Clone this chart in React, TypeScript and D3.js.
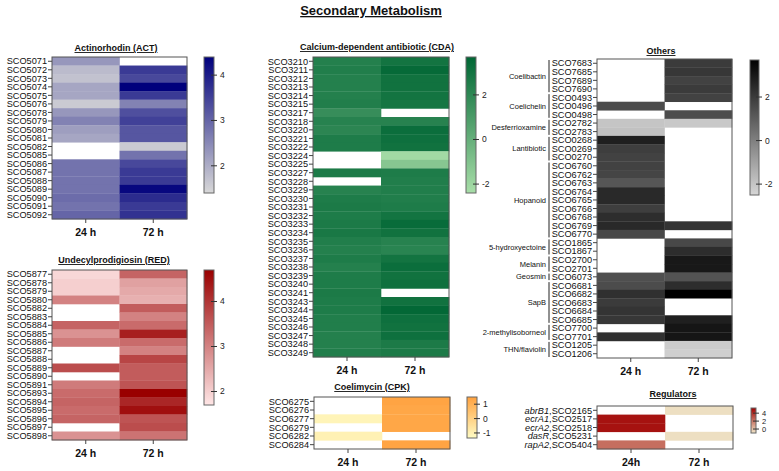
import * as d3 from 'd3'

// ---- data ----
const actGenes = ['SCO5071', 'SCO5072', 'SCO5073', 'SCO5074', 'SCO5075', 'SCO5076', 'SCO5078', 'SCO5079', 'SCO5080', 'SCO5081', 'SCO5082', 'SCO5085', 'SCO5086', 'SCO5087', 'SCO5088', 'SCO5089', 'SCO5090', 'SCO5091', 'SCO5092']
const act24 = [2.3, 1.8, 1.7, 2.1, 2.1, 1.6, 2.3, 2.6, 2.2, 2.1, NaN, NaN, 2.8, 2.8, 2.8, 2.8, 2.9, 2.8, 3.0]
const act72 = [NaN, 3.6, 3.4, 4.4, 3.6, 2.6, 3.3, 3.5, 3.2, 3.2, 1.6, 2.8, 3.4, 3.6, 3.6, 4.3, 3.8, 3.6, 3.7]

const redGenes = ['SCO5877', 'SCO5878', 'SCO5879', 'SCO5880', 'SCO5882', 'SCO5883', 'SCO5884', 'SCO5885', 'SCO5886', 'SCO5887', 'SCO5888', 'SCO5889', 'SCO5890', 'SCO5891', 'SCO5893', 'SCO5894', 'SCO5895', 'SCO5896', 'SCO5897', 'SCO5898']
const red24 = [1.9, 2.0, 2.0, 3.0, NaN, NaN, 3.4, 2.8, 3.1, NaN, NaN, 3.7, NaN, 3.1, 3.3, 3.4, 3.3, 3.4, NaN, 2.8]
const red72 = [3.4, 2.6, 2.5, 2.4, 3.5, 3.0, 3.3, 4.3, 3.3, 3.0, 3.8, 3.5, 3.5, 3.6, 4.7, 4.2, 4.5, 3.6, 3.7, 3.2]

const cdaGenes = ['SCO3210', 'SCO3211', 'SCO3212', 'SCO3213', 'SCO3214', 'SCO3215', 'SCO3217', 'SCO3218', 'SCO3220', 'SCO3221', 'SCO3222', 'SCO3224', 'SCO3225', 'SCO3227', 'SCO3228', 'SCO3229', 'SCO3230', 'SCO3231', 'SCO3232', 'SCO3233', 'SCO3234', 'SCO3235', 'SCO3236', 'SCO3237', 'SCO3238', 'SCO3239', 'SCO3240', 'SCO3241', 'SCO3243', 'SCO3244', 'SCO3245', 'SCO3246', 'SCO3247', 'SCO3248', 'SCO3249']
const cda24 = [2.4, 2.5, 2.4, 2.4, 2.4, 2.5, 1.7, 2.3, 2.1, 2.6, 2.6, NaN, NaN, 2.7, NaN, 2.3, 2.6, 2.7, 2.6, 2.7, 2.8, 2.5, 2.4, 2.6, 2.4, 2.6, 2.6, 2.7, 2.6, 2.6, 2.5, 2.5, 2.4, 2.4, 2.5]
const cda72 = [3.0, 3.5, 3.1, 3.1, 3.0, 2.9, NaN, 2.3, 3.3, 3.2, 3.1, -2.2, -1.2, 2.6, 2.5, 2.5, 2.5, 2.6, 3.0, 3.4, 3.1, 2.3, 2.2, 3.0, 3.3, 3.1, 3.2, NaN, 3.1, 3.6, 3.2, 3.1, 3.2, 2.7, 2.7]

const cpkGenes = ['SCO6275', 'SCO6276', 'SCO6277', 'SCO6279', 'SCO6282', 'SCO6284']
const cpk24 = [NaN, NaN, -1.1, NaN, -1.0, NaN]
const cpk72 = [1.4, 1.3, 1.3, 1.3, NaN, 1.4]

const otherGenes = ['SCO7683', 'SCO7685', 'SCO7689', 'SCO7690', 'SCO0493', 'SCO0496', 'SCO0498', 'SCO2782', 'SCO2783', 'SCO0268', 'SCO0269', 'SCO0270', 'SCO6760', 'SCO6762', 'SCO6763', 'SCO6764', 'SCO6765', 'SCO6766', 'SCO6768', 'SCO6769', 'SCO6770', 'SCO1865', 'SCO1867', 'SCO2700', 'SCO2701', 'SCO6073', 'SCO6681', 'SCO6682', 'SCO6683', 'SCO6684', 'SCO6685', 'SCO7700', 'SCO7701', 'SCO1205', 'SCO1206']
const other24 = [NaN, NaN, NaN, NaN, NaN, 1.5, NaN, -2.0, -1.9, 2.8, 1.9, 1.8, 1.8, 1.7, 1.2, 2.5, 2.5, 1.9, 2.4, 2.5, 1.6, NaN, NaN, NaN, NaN, 1.4, 1.5, 2.3, 2.0, 2.2, 2.1, NaN, 2.3, NaN, NaN]
const other72 = [2.0, 2.1, 1.8, 2.0, 1.8, NaN, 1.5, -2.1, NaN, NaN, NaN, NaN, NaN, NaN, NaN, NaN, NaN, NaN, NaN, 2.2, NaN, 1.6, 2.4, 3.0, 3.0, 1.3, 2.4, 3.7, NaN, NaN, 2.8, 3.1, 3.1, -2.2, -2.3]
const otherGroups = ['Coelibactin', 'Coelichelin', 'Desferrioxamine', 'Lantibiotic', 'Hopanoid', '5-hydroxyectoine', 'Melanin', 'Geosmin', 'SapB', '2-methylisoborneol', 'THN/flaviolin']
const otherGroupSizes = [4, 3, 2, 3, 9, 2, 2, 1, 5, 2, 2]

const regGenes = ['abrB1', 'ecrA1', 'ecrA2', 'dasR', 'rapA2']
const regIds = ['SCO2165', 'SCO2517', 'SCO2518', 'SCO5231', 'SCO5404']
const reg24 = [NaN, 4.8, 4.8, NaN, 2.3]
const reg72 = [-0.8, NaN, NaN, -0.8, NaN]

const font = 'Liberation Sans, Arial, Helvetica, sans-serif'

interface Bar {
  x: number
  top: number
  bottom: number
  w: number
  ticks: number[]
  fontSize?: number
}

interface Props {
  id: string
  title: string
  titleX: number
  titleY: number
  rows: React.ReactNode[]
  v24: number[]
  v72: number[]
  left: number
  top: number
  width: number
  height: number
  domain: [number, number]
  colors: [string, string]
  bar: Bar
  xLabels?: string[]
  groups?: { names: string[]; sizes: number[] }
}

const Heatmap = ({ id, title, titleX, titleY, rows, v24, v72, left, top, width, height, domain, colors, bar, xLabels = ['24 h', '72 h'], groups }: Props) => {
  const y = d3.scaleBand<number>().domain(d3.range(rows.length)).range([top, top + height])
  const x = d3.scaleBand<number>().domain([0, 1]).range([left, left + width])
  const color = d3.scaleLinear<string>().domain(domain).range(colors).interpolate(d3.interpolateRgb).clamp(true)
  const barY = d3.scaleLinear().domain(domain).range([bar.bottom, bar.top])
  const bh = y.bandwidth()
  const cols = [v24, v72]

  let groupBlocks: { name: string; y0: number; y1: number }[] = []
  if (groups) {
    let start = 0
    groupBlocks = groups.names.map((name, i) => {
      const s = start
      start += groups.sizes[i]
      return { name, y0: y(s)!, y1: y(start - 1)! + bh }
    })
  }

  return (
    <g fontFamily={font}>
      <defs>
        <linearGradient id={`grad-${id}`} x1="0" y1="1" x2="0" y2="0">
          <stop offset="0%" stopColor={colors[0]} />
          <stop offset="100%" stopColor={colors[1]} />
        </linearGradient>
      </defs>
      <text x={titleX} y={titleY} textAnchor="middle" fontSize={9} fontWeight="bold" textDecoration="underline" fill="#111">
        {title}
      </text>

      {cols.map((vals, c) =>
        vals.map((v, r) =>
          isNaN(v) ? null : (
            <rect key={`${c}-${r}`} x={x(c)} y={y(r)} width={x.bandwidth() + 0.3} height={bh + 0.3} fill={color(v)} />
          )
        )
      )}
      <rect x={left} y={top} width={width} height={height} fill="none" stroke="#555" strokeWidth={1} />

      {/* y axis */}
      <g fontSize={9.2} fill="#111" textAnchor="end">
        {rows.map((label, r) => {
          const cy = y(r)! + bh / 2
          return (
            <g key={r}>
              <line x1={left - 4} x2={left} y1={cy} y2={cy} stroke="#444" />
              <text x={left - 5} y={cy} dy="0.35em">
                {label}
              </text>
            </g>
          )
        })}
      </g>

      {/* group brackets */}
      {groupBlocks.map((g) => (
        <g key={g.name}>
          <line x1={left - 48} x2={left - 48} y1={g.y0 + 1} y2={g.y1 - 1} stroke="#222" strokeWidth={1} />
          <text x={left - 51} y={(g.y0 + g.y1) / 2} dy="0.35em" textAnchor="end" fontSize={7.5} fill="#111">
            {g.name}
          </text>
        </g>
      ))}

      {/* x axis */}
      {xLabels.map((lab, c) => {
        const cx = x(c)! + x.bandwidth() / 2
        return (
          <g key={lab}>
            <line x1={cx} x2={cx} y1={top + height} y2={top + height + 4} stroke="#444" />
            <text x={cx} y={top + height + 17} textAnchor="middle" fontSize={10.5} fontWeight="bold" fill="#111">
              {lab}
            </text>
          </g>
        )
      })}

      {/* colour bar */}
      <rect x={bar.x} y={bar.top} width={bar.w} height={bar.bottom - bar.top} fill={`url(#grad-${id})`} stroke="#666" strokeWidth={1} />
      {bar.ticks.map((t) => (
        <g key={t}>
          <line x1={bar.x + bar.w - 3} x2={bar.x + bar.w + 3} y1={barY(t)} y2={barY(t)} stroke="#333" />
          <text x={bar.x + bar.w + 6} y={barY(t)} dy="0.35em" fontSize={bar.fontSize ?? 8.5} fill="#222">
            {t}
          </text>
        </g>
      ))}
    </g>
  )
}

export default function App() {
  const regRows = regGenes.map((g, i) => (
    <tspan key={g}>
      <tspan fontStyle="italic">{g}</tspan>,{regIds[i]}
    </tspan>
  ))
  return (
    <svg width={779} height={471} style={{ position: 'absolute', left: 0, top: 0, background: '#fff' }}>
      <text x={371} y={15} textAnchor="middle" fontFamily={font} fontSize={13} fontWeight="bold" textDecoration="underline" fill="#111">
        Secondary Metabolism
      </text>

      <Heatmap id="act" title="Actinorhodin (ACT)" titleX={116} titleY={51} rows={actGenes} v24={act24} v72={act72}
        left={52} top={57} width={135} height={162} domain={[1.4, 4.4]} colors={['#d8d8d8', '#00007c']}
        bar={{ x: 204, top: 57, bottom: 193, w: 10, ticks: [2, 3, 4] }} />

      <Heatmap id="red" title="Undecylprodigiosin (RED)" titleX={114} titleY={263} rows={redGenes} v24={red24} v72={red72}
        left={52} top={270} width={135} height={170} domain={[1.7, 4.7]} colors={['#ffe6e6', '#990000']}
        bar={{ x: 204, top: 270, bottom: 405, w: 10, ticks: [2, 3, 4] }} />

      <Heatmap id="cda" title="Calcium-dependent antibiotic (CDA)" titleX={377} titleY={50} rows={cdaGenes} v24={cda24} v72={cda72}
        left={313} top={57} width={136} height={300} domain={[-2.4, 3.7]} colors={['#a8dea8', '#006634']}
        bar={{ x: 466, top: 57, bottom: 193, w: 10, ticks: [-2, 0, 2] }} />

      <Heatmap id="cpk" title="Coelimycin (CPK)" titleX={372} titleY={390} rows={cpkGenes} v24={cpk24} v72={cpk72}
        left={314} top={397} width={136} height={52} domain={[-1.35, 1.5]} colors={['#fffcc4', '#ffa13e']}
        bar={{ x: 467, top: 397, bottom: 438, w: 10, ticks: [-1, 0, 1] }} />

      <Heatmap id="oth" title="Others" titleX={661} titleY={54} rows={otherGenes} v24={other24} v72={other72}
        left={597} top={59} width={135} height={299} domain={[-2.5, 3.7]} colors={['#d6d6d6', '#000000']}
        bar={{ x: 750, top: 60, bottom: 195, w: 9, ticks: [-2, 0, 2] }}
        groups={{ names: otherGroups, sizes: otherGroupSizes }} />

      <Heatmap id="reg" title="Regulators" titleX={673} titleY={397} rows={regRows} v24={reg24} v72={reg72}
        left={597} top={406} width={136} height={43} domain={[-1, 5.3]} colors={['#f0e6c8', '#a00000']}
        bar={{ x: 751, top: 408, bottom: 433, w: 5, ticks: [0, 2, 4], fontSize: 7.5 }}
        xLabels={['24h', '72 h']} />
    </svg>
  )
}
